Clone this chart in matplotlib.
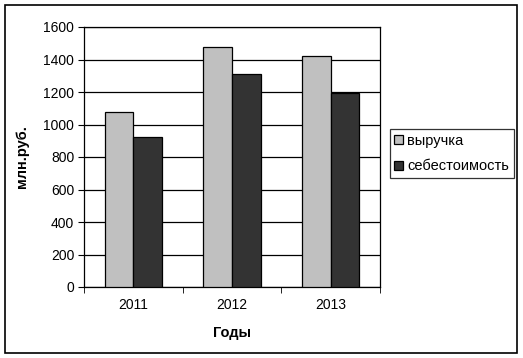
import numpy as np
import matplotlib.pyplot as plt
from matplotlib.patches import Rectangle

plt.rcParams['font.family'] = ['Liberation Sans', 'DejaVu Sans']

years = ['2011', '2012', '2013']
revenue = [1080, 1475, 1420]   # выручка
cost = [925, 1310, 1195]       # себестоимость
series_names = ['выручка', 'себестоимость']
y_ticks = [0, 200, 400, 600, 800, 1000, 1200, 1400, 1600]

fig = plt.figure(figsize=(5.23, 3.58), dpi=100)
W, H = 523, 358

# outer frame of the chart
fig.patches.append(Rectangle((5 / W, 5 / H), 512 / W, 348 / H, transform=fig.transFigure,
                             fill=False, edgecolor='black', linewidth=1.2))

ax = fig.add_axes([84 / W, 1 - 287 / H, 296 / W, 260 / H])

x = np.arange(len(years))
w = 0.29
ax.bar(x - w / 2, revenue, w, color='#c0c0c0', edgecolor='black', linewidth=0.9,
       label=series_names[0], zorder=3)
ax.bar(x + w / 2, cost, w, color='#333333', edgecolor='black', linewidth=0.9,
       label=series_names[1], zorder=3)

ax.set_xlim(-0.5, len(years) - 0.5)
ax.set_ylim(0, 1600)
ax.set_yticks(y_ticks)
ax.yaxis.grid(True, color='black', linewidth=0.9, zorder=0)
ax.set_axisbelow(True)

ax.set_xticks(x)
ax.set_xticklabels(years, fontsize=10)
ax.tick_params(axis='x', length=0, pad=8)
ax.set_xticks(np.arange(-0.5, len(years)), minor=True)
ax.tick_params(axis='x', which='minor', length=4, direction='out')
ax.tick_params(axis='y', labelsize=10, length=4, direction='out', pad=3)

for s in ax.spines.values():
    s.set_linewidth(0.9)

ax.set_xlabel('Годы', fontsize=10.5, fontweight='bold', labelpad=10)
ax.set_ylabel('млн.руб.', fontsize=10.5, fontweight='bold', labelpad=10)

leg = ax.legend(loc='center left', bbox_to_anchor=(390 / W, 1 - 181 / H, 124 / W, 55 / H),
                bbox_transform=fig.transFigure, mode='expand', fontsize=10.5,
                frameon=True, fancybox=False, edgecolor='black', borderaxespad=0,
                handlelength=0.6, handleheight=0.6, handletextpad=0.3,
                labelspacing=0.8, borderpad=0.3)
leg.get_frame().set_linewidth(0.9)

fig.savefig('out.png', dpi=100)
